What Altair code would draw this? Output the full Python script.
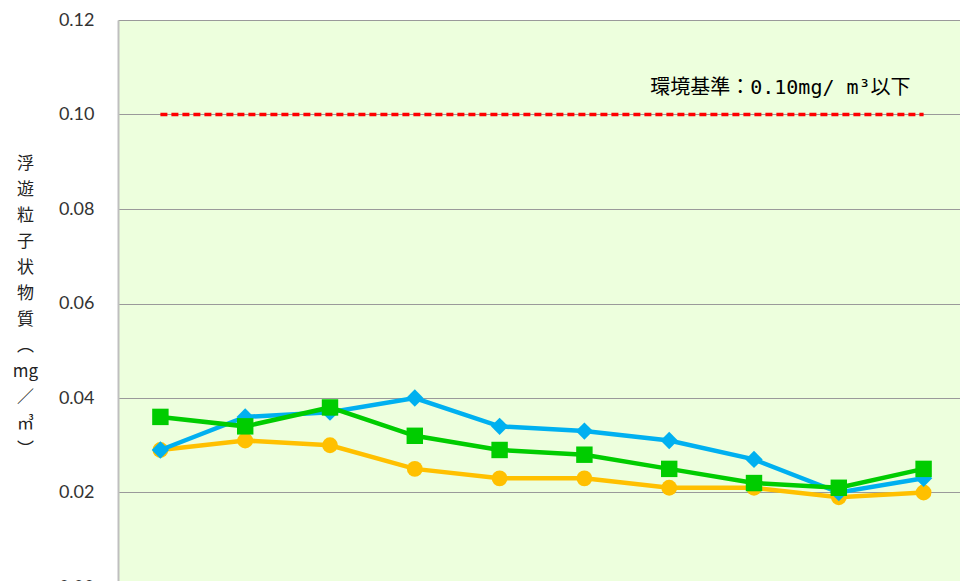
import altair as alt
import pandas as pd

years = ["H21", "H22", "H23", "H24", "H25", "H26", "H27", "H28", "H29", "H30"]
orange_vals = [0.029, 0.031, 0.030, 0.025, 0.023, 0.023, 0.021, 0.021, 0.019, 0.020]
blue_vals = [0.029, 0.036, 0.037, 0.040, 0.034, 0.033, 0.031, 0.027, 0.020, 0.023]
green_vals = [0.036, 0.034, 0.038, 0.032, 0.029, 0.028, 0.025, 0.022, 0.021, 0.025]
standard_value = 0.10
standard_label = "環境基準：0.10mg/ m³以下"
y_title = ["浮", "遊", "粒", "子", "状", "物", "質", "︵", "mg", "／", "㎥", "︶"]
y_ticks = [0, 0.02, 0.04, 0.06, 0.08, 0.10, 0.12]

# the category band spans a little beyond the drawn view (original plot was wider)
xscale = alt.Scale(type="point", padding=0.5, domain=years, range=[0, 848])
yscale = alt.Scale(domain=[0, 0.12])

x_enc = alt.X("year:N", scale=xscale, sort=years,
              axis=alt.Axis(title=None, labels=False, domainColor="#BFBFBF",
                            ticks=False))
y_axis = alt.Axis(title=y_title, titleAngle=0, titleFont="Noto Sans CJK JP",
                  titleFontSize=17, titleFontWeight="normal", titleColor="#222222",
                  titleLineHeight=26, titleX=-93, titleY=135, titleBaseline="top",
                  titleAlign="center",
                  values=y_ticks, format=".2f",
                  labelFont="Lato", labelFontSize=18, labelColor="#333333",
                  labelPadding=24, ticks=False, domainColor="#BFBFBF",
                  domainWidth=2, gridColor="#9A9A9A", gridWidth=1)


def series(vals, color, shape, size):
    df = pd.DataFrame({"year": years, "value": vals})
    base = alt.Chart(df)
    y_enc = alt.Y("value:Q", scale=yscale, axis=y_axis)
    line = base.mark_line(color=color, strokeWidth=4.5).encode(x=x_enc, y=y_enc)
    pts = base.mark_point(shape=shape, size=size, filled=True, opacity=1,
                          color=color).encode(x=x_enc, y=y_enc)
    return line + pts


rule_df = pd.DataFrame({"year": [years[0]], "year2": [years[-1]],
                        "value": [standard_value]})
rule = alt.Chart(rule_df).mark_rule(color="#FF0000", strokeWidth=3.5,
                                    strokeDash=[7, 4]).encode(
    x=x_enc, x2="year2:N", y=alt.Y("value:Q", scale=yscale, axis=y_axis))

text_df = pd.DataFrame({"year": [years[-1]], "value": [0.1056],
                        "label": [standard_label]})
text = alt.Chart(text_df).mark_text(align="right", baseline="middle", dx=-13,
                                    font="DejaVu Sans Mono, Noto Sans CJK JP",
                                    fontSize=20, color="#000000").encode(
    x=x_enc, y=alt.Y("value:Q", scale=yscale, axis=y_axis), text="label:N")

chart = alt.layer(
    rule,
    series(orange_vals, "#FFC000", "circle", 250),
    series(blue_vals, "#00B0F0", "diamond", 300),
    series(green_vals, "#00CC00", "square", 270),
    text,
).properties(
    width=842, height=567,
    padding={"left": 110, "top": 12, "right": 0, "bottom": 40},
    autosize=alt.AutoSizeParams(type="none"),
    background="white",
).configure_view(fill="#EDFFDD", stroke=None)

chart.save("out.html", embed_options={"renderer": "svg", "actions": False})
